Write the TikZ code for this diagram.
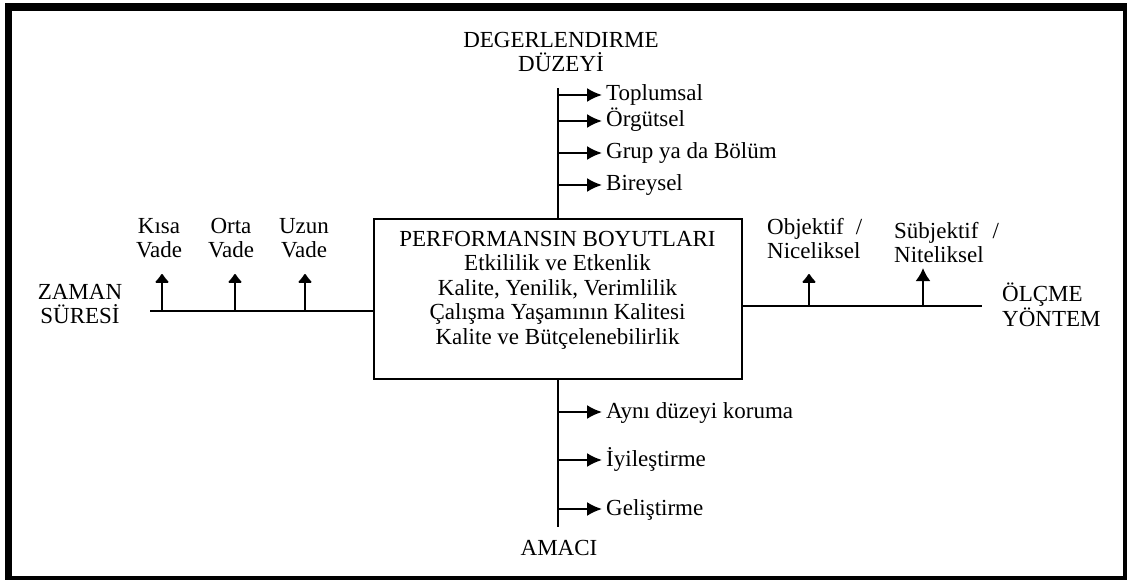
\documentclass[tikz,border=0pt]{standalone}
\usepackage{fontspec}
\setmainfont{Liberation Serif}
\usetikzlibrary{arrows.meta, positioning}

\tikzset{
  lbl/.style={font=\fontsize{23}{24.5}\selectfont, inner sep=0pt},
  branch/.style={lbl, anchor=west, inner xsep=4pt, text height=16pt, text depth=4pt},
  trunk/.style={line width=2pt},
  brancharrow/.style={trunk, -{Latex[length=15pt,width=14pt]}},
  uparrow/.style={trunk, -{Latex[length=10pt,width=17pt,round]}},
  upsharp/.style={trunk, -{Latex[length=13pt,width=15pt]}},
}

\begin{document}
\begin{tikzpicture}[x=1pt, y=-1pt]
  % frame
  \useasboundingbox (0,0) rectangle (1127,580);
  \fill[black] (5,3) rectangle (1127,580);
  \fill[white] (12,11) rectangle (1123,576);

  % centre box
  \node[draw, line width=2pt, minimum width=368pt, minimum height=160pt] (perf) at (557.5,299) {};
  \node[lbl, align=center, anchor=north] (perftext) at (557.5,231)
    {PERFORMANSIN BOYUTLARI\\Etkililik ve Etkenlik\\Kalite, Yenilik, Verimlilik\\
     Çalışma Yaşamının Kalitesi\\Kalite ve Bütçelenebilirlik};

  % degerlendirme duzeyi
  \node[lbl, align=center, anchor=north] (duzey) at (561,32) {DEGERLENDIRME\\DÜZEYİ};
  \coordinate (dtop) at (557.5,88);
  \draw[trunk] (perf) -- (dtop);
  \node[branch] (toplumsal) at (602,95) {Toplumsal};
  \node[branch] (orgutsel) at (602,121) {Örgütsel};
  \node[branch] (grup) at (602,153) {Grup ya da Bölüm};
  \node[branch] (bireysel) at (602,185) {Bireysel};
  \foreach \n in {toplumsal, orgutsel, grup, bireysel}
    \draw[brancharrow] (dtop |- \n) -- (\n.west);

  % amaci
  \coordinate (dbot) at (557.5,527);
  \draw[trunk] (perf) -- (dbot);
  \node[branch] (koruma) at (602,412) {Aynı düzeyi koruma};
  \node[branch] (iyiles) at (602,460) {İyileştirme};
  \node[branch] (gelis) at (602,509) {Geliştirme};
  \foreach \n in {koruma, iyiles, gelis}
    \draw[brancharrow] (dbot |- \n) -- (\n.west);
  \node[lbl, anchor=north] (amaci) at (559,540) {AMACI};

  % zaman suresi
  \node[lbl, align=center, anchor=north] (zaman) at (80,284) {ZAMAN\\SÜRESİ};
  \coordinate (lend) at (150,311);
  \draw[trunk] (lend) -- (lend -| perf.west);
  \node[lbl, align=center, anchor=north] (kisa) at (159,218) {Kısa\\Vade};
  \node[lbl, align=center, anchor=north] (orta) at (231,218) {Orta\\Vade};
  \node[lbl, align=center, anchor=north] (uzun) at (304,218) {Uzun\\Vade};
  \coordinate (k1) at (162,311);
  \coordinate (k2) at (235,311);
  \coordinate (k3) at (305,311);
  \foreach \c in {k1, k2, k3}
    \draw[uparrow] (\c) -- ++(0,-37);

  % olcme yontem
  \node[lbl, align=left, anchor=north west] (olcme) at (1002,283) {ÖLÇME\\YÖNTEM};
  \coordinate (rend) at (982,306);
  \draw[trunk] (perf.east |- rend) -- (rend);
  \node[lbl, align=left, anchor=north west] (objektif) at (767,218) {Objektif\hspace{12pt}/\\Niceliksel};
  \node[lbl, align=left, anchor=north west] (subjektif) at (894,222) {Sübjektif\hspace{14pt}/\\Niteliksel};
  \coordinate (o1) at (809,306);
  \coordinate (o2) at (923,306);
  \draw[uparrow] (o1) -- (o1 |- 0,274);
  \draw[upsharp] (o2) -- (o2 |- 0,268);
\end{tikzpicture}
\end{document}
